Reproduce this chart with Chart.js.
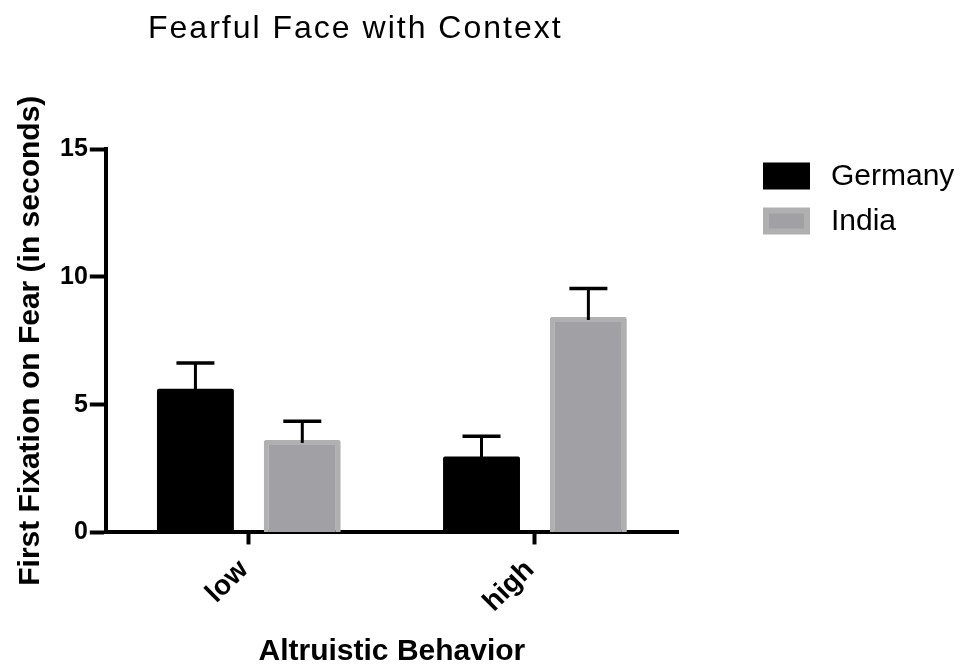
<!DOCTYPE html>
<html>
<head>
<meta charset="utf-8">
<script src="https://cdn.jsdelivr.net/npm/chart.js@4.4.1/dist/chart.umd.min.js"></script>
<style>
  html, body { margin: 0; padding: 0; background: #ffffff; }
  #wrap { width: 962px; height: 666px; }
</style>
</head>
<body>
<div id="wrap"><canvas id="chart" width="962" height="666"></canvas></div>
<script>
// Mean first-fixation times (seconds) with upper error bars
const chartTitle = 'Fearful Face with Context';
const categories = ['low', 'high'];
const seriesNames = ['Germany', 'India'];
const germanyMeans = [5.62, 2.97];
const indiaMeans = [3.62, 8.43];
const germanyErrors = [1.01, 0.79];
const indiaErrors = [0.73, 1.11];
const yTicks = [0, 5, 10, 15];
const xAxisTitle = 'Altruistic Behavior';
const yAxisTitle = 'First Fixation on Fear (in seconds)';

const FONT = '"Liberation Sans", Arial, Helvetica, sans-serif';

// Draws the one-sided (upward) error bars on top of each bar
const errorBars = {
  id: 'errorBars',
  afterDatasetsDraw(chart) {
    const ctx = chart.ctx;
    const yScale = chart.scales.y;
    ctx.save();
    ctx.strokeStyle = '#000';
    ctx.lineCap = 'butt';
    chart.data.datasets.forEach((ds, di) => {
      const meta = chart.getDatasetMeta(di);
      meta.data.forEach((bar, i) => {
        const top = yScale.getPixelForValue(ds.data[i] + ds.errors[i]);
        const x = bar.x;
        ctx.lineWidth = 3;
        ctx.beginPath();
        ctx.moveTo(x, bar.y + 3);
        ctx.lineTo(x, top);
        ctx.stroke();
        ctx.lineWidth = 3.5;
        ctx.beginPath();
        ctx.moveTo(x - 19, top);
        ctx.lineTo(x + 19, top);
        ctx.stroke();
      });
    });
    ctx.restore();
  }
};

// Title and legend block
const decorations = {
  id: 'decorations',
  afterDraw(chart) {
    const ctx = chart.ctx;
    ctx.save();
    ctx.fillStyle = '#000';
    ctx.font = '32px ' + FONT;
    ctx.textBaseline = 'alphabetic';
    ctx.textAlign = 'left';
    ctx.letterSpacing = '2px';
    ctx.fillText(chartTitle, 148, 38);
    ctx.letterSpacing = '0px';

    const rows = [176, 221];
    chart.data.datasets.forEach((ds, i) => {
      const cy = rows[i];
      const bx = 763, bw = 47, bh = 27;
      ctx.fillStyle = ds.borderWidth ? ds.borderColor : ds.backgroundColor;
      ctx.fillRect(bx, cy - bh / 2, bw, bh);
      if (ds.borderWidth) {
        ctx.fillStyle = ds.backgroundColor;
        ctx.fillRect(bx + 6, cy - bh / 2 + 6, bw - 12, bh - 12);
      }
      ctx.fillStyle = '#000';
      ctx.font = '30px ' + FONT;
      ctx.textBaseline = 'middle';
      ctx.fillText(ds.label, 831, cy + 1);
    });
    ctx.restore();
  }
};

new Chart(document.getElementById('chart'), {
  type: 'bar',
  data: {
    labels: categories,
    datasets: [
      {
        label: seriesNames[0],
        data: germanyMeans,
        errors: germanyErrors,
        backgroundColor: '#000000',
        borderWidth: 0,
        borderRadius: 2,
        categoryPercentage: 0.747,
        barPercentage: 0.72
      },
      {
        label: seriesNames[1],
        data: indiaMeans,
        errors: indiaErrors,
        backgroundColor: '#a1a0a5',
        borderColor: '#b0b0b0',
        borderWidth: 5,
        borderRadius: 2,
        categoryPercentage: 0.747,
        barPercentage: 0.72
      }
    ]
  },
  options: {
    responsive: false,
    animation: false,
    devicePixelRatio: 1,
    layout: { padding: { left: 9, right: 284, top: 149, bottom: 0 } },
    plugins: {
      legend: { display: false },
      title: { display: false },
      tooltip: { enabled: false }
    },
    scales: {
      x: {
        offset: true,
        grid: {
          display: true, drawOnChartArea: false, offset: false,
          drawTicks: true, tickLength: 12, tickWidth: 4, tickColor: '#000'
        },
        border: { display: true, width: 4, color: '#000' },
        ticks: {
          color: '#000', minRotation: 45, maxRotation: 45, padding: 9, labelOffset: -5,
          font: { family: FONT, size: 28, weight: 'bold' }
        },
        title: {
          display: true, text: xAxisTitle, color: '#000',
          padding: { top: 6, bottom: -4 },
          font: { family: FONT, size: 30, weight: 'bold' }
        }
      },
      y: {
        min: 0, max: 15,
        afterBuildTicks(scale) { scale.ticks = yTicks.map(v => ({ value: v })); },
        grid: {
          display: true, drawOnChartArea: false,
          drawTicks: true, tickLength: 16, tickWidth: 4, tickColor: '#000'
        },
        border: { display: true, width: 4, color: '#000' },
        ticks: {
          color: '#000', padding: 2,
          font: { family: FONT, size: 25, weight: 'bold' }
        },
        title: {
          display: true, text: yAxisTitle, color: '#000',
          padding: { top: 4, bottom: 9 },
          font: { family: FONT, size: 30, weight: 'bold' }
        }
      }
    }
  },
  plugins: [errorBars, decorations]
});
</script>
</body>
</html>
